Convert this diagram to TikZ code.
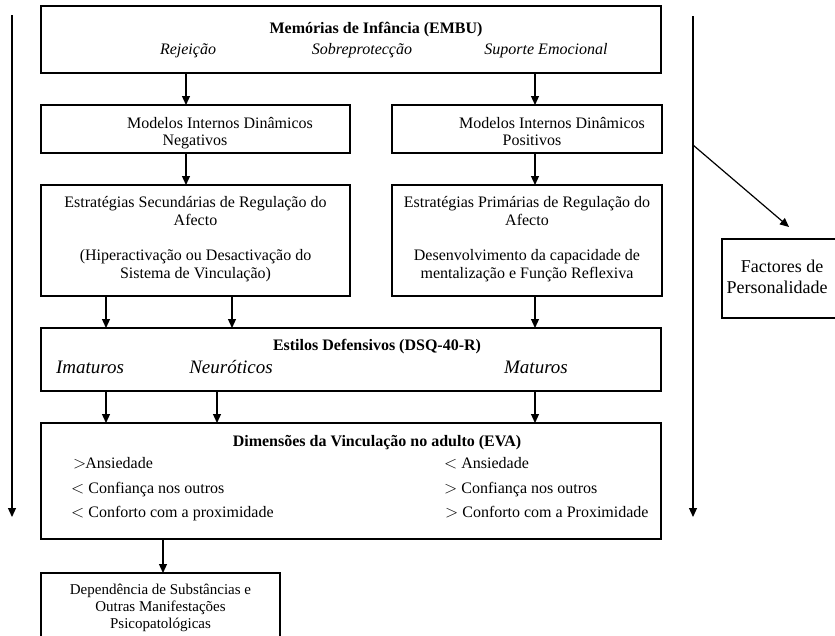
\documentclass[tikz,border=0pt]{standalone}
\usepackage{fontspec}
\setmainfont{Liberation Serif}
\usetikzlibrary{arrows.meta}
\newcommand{\gsym}{{\fontsize{18}{18}\selectfont$>$}}
\newcommand{\lsym}{{\fontsize{18}{18}\selectfont$<$}}
\begin{document}
\begin{tikzpicture}[x=1pt,y=-1pt,
  box/.style={draw, line width=1.2pt, inner sep=0pt, outer sep=0pt},
  arr/.style={line width=1.2pt, -{Triangle[length=9pt,width=8pt]}},
  txt/.style={inner sep=0pt, anchor=base, font=\fontsize{16}{18}\selectfont},
  ltxt/.style={txt, anchor=base west},
  btxt/.style={txt, font=\fontsize{16}{18}\selectfont\bfseries},
  itxt/.style={txt, font=\fontsize{16}{18}\selectfont\itshape},
  iitxt/.style={txt, font=\fontsize{19}{21}\selectfont\itshape},
  stxt/.style={txt, font=\fontsize{15}{17}\selectfont},
  ftxt/.style={txt, font=\fontsize{18}{21}\selectfont}]
\useasboundingbox (0,0) rectangle (835,635);
\clip (0,0) rectangle (835,635);

% boxes
\node[box, minimum width=620pt, minimum height=67pt] (embu) at (351,39.5) {};
\node[box, minimum width=309pt, minimum height=48pt] (mneg) at (195.5,129) {};
\node[box, minimum width=270pt, minimum height=48pt] (mpos) at (527,129) {};
\node[box, minimum width=309pt, minimum height=111pt] (esec) at (195.5,240.5) {};
\node[box, minimum width=270pt, minimum height=111pt] (eprim) at (527,240.5) {};
\node[box, minimum width=620pt, minimum height=63pt] (dsq) at (351,359.5) {};
\node[box, minimum width=620pt, minimum height=116pt] (eva) at (351,481) {};
\node[box, minimum width=239pt, minimum height=80pt] (dep) at (160.5,613) {};
\node[box, minimum width=120pt, minimum height=79pt] (fact) at (782,278.5) {};

% texts
\node[btxt] (t1) at (376,33) {Memórias de Infância (EMBU)};
\node[itxt] (t2) at (188,54) {Rejeição};
\node[itxt] (t3) at (362,54) {Sobreprotecção};
\node[itxt] (t4) at (546,54) {Suporte Emocional};

\node[txt] (t5) at (220,128) {Modelos Internos Dinâmicos};
\node[txt] (t6) at (195,145) {Negativos};
\node[txt] (t7) at (552,128) {Modelos Internos Dinâmicos};
\node[txt] (t8) at (532,145) {Positivos};

\node[txt] (t9) at (195.5,207) {Estratégias Secundárias de Regulação do};
\node[txt] (t10) at (195.5,225) {Afecto};
\node[txt] (t11) at (195.5,260) {(Hiperactivação ou Desactivação do};
\node[txt] (t12) at (195.5,278) {Sistema de Vinculação)};
\node[txt] (t13) at (527,207) {Estratégias Primárias de Regulação do};
\node[txt] (t14) at (527,225) {Afecto};
\node[txt] (t15) at (527,260) {Desenvolvimento da capacidade de};
\node[txt] (t16) at (527,278) {mentalização e Função Reflexiva};

\node[btxt] (t17) at (377,350) {Estilos Defensivos (DSQ-40-R)};
\node[iitxt] (t18) at (90,373) {Imaturos};
\node[iitxt] (t19) at (231,373) {Neuróticos};
\node[iitxt] (t20) at (536,373) {Maturos};

\node[btxt] (t21) at (377,446) {Dimensões da Vinculação no adulto (EVA)};
\node[ltxt] (t22) at (73,468) {\gsym\kern-1pt Ansiedade};
\node[ltxt] (t23) at (71,493) {\lsym\ Confiança nos outros};
\node[ltxt] (t24) at (71,517) {\lsym\ Conforto com a proximidade};
\node[ltxt] (t25) at (444,468) {\lsym\ Ansiedade};
\node[ltxt] (t26) at (444,493) {\gsym\ Confiança nos outros};
\node[ltxt] (t27) at (445,517) {\gsym\ Conforto com a Proximidade};

\node[stxt] (t28) at (160.5,594) {Dependência de Substâncias e};
\node[stxt] (t29) at (160.5,611) {Outras Manifestações};
\node[stxt] (t30) at (160.5,628) {Psicopatológicas};

\node[ftxt] (t31) at (782,272) {Factores de};
\node[ftxt] (t32) at (777,293) {Personalidade};

% connector x positions
\coordinate (xa) at (186,0);
\coordinate (xb) at (535,0);
\coordinate (xc) at (106,0);
\coordinate (xd) at (232,0);
\coordinate (xe) at (217,0);
\coordinate (xf) at (163,0);

\draw[arr] (embu.south -| xa) -- (mneg.north -| xa);
\draw[arr] (embu.south -| xb) -- (mpos.north -| xb);
\draw[arr] (mneg.south -| xa) -- (esec.north -| xa);
\draw[arr] (mpos.south -| xb) -- (eprim.north -| xb);
\draw[arr] (esec.south -| xc) -- (dsq.north -| xc);
\draw[arr] (esec.south -| xd) -- (dsq.north -| xd);
\draw[arr] (eprim.south -| xb) -- (dsq.north -| xb);
\draw[arr] (dsq.south -| xc) -- (eva.north -| xc);
\draw[arr] (dsq.south -| xe) -- (eva.north -| xe);
\draw[arr] (dsq.south -| xb) -- (eva.north -| xb);
\draw[arr] (eva.south -| xf) -- (dep.north -| xf);

% side arrows
\coordinate (ls) at (12,15);
\coordinate (le) at (12,517);
\coordinate (rs) at (693,16);
\coordinate (re) at (693,517);
\coordinate (ds) at (693,145);
\coordinate (de) at (789,227);
\draw[arr] (ls) -- (le);
\draw[arr] (rs) -- (re);
\draw[arr] (ds) -- (de);
\end{tikzpicture}
\end{document}
